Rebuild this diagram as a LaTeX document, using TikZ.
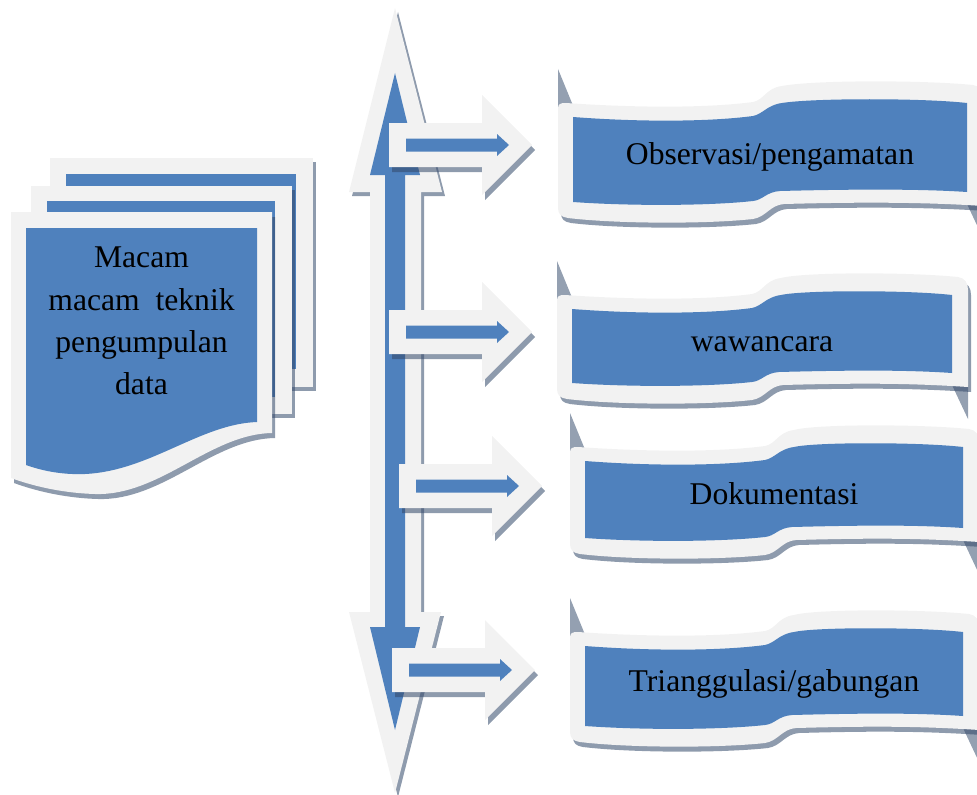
\documentclass[tikz,border=0pt]{standalone}
\usepackage{fontspec}
\setmainfont{Liberation Serif}
\definecolor{boxblue}{RGB}{79,129,189}
\definecolor{boxgray}{RGB}{242,242,242}
\definecolor{shade}{RGB}{50,72,105}
\definecolor{flapgray}{RGB}{148,160,177}
\tikzset{
  bluefill/.style={fill=boxblue},
  grayfill/.style={fill=boxgray},
  shadowfill/.style={fill=shade, fill opacity=0.55},
  flapfill/.style={fill=flapgray},
  bigtext/.style={font=\fontsize{18}{24}\selectfont, inner sep=0pt}
}
% front sheet of the pile
\newcommand{\pageout}{(11,212) -- (272,212) -- (272,433) .. controls (210,434) and (160,496) .. (95,494) .. controls (60,493) and (30,485) .. (11,478) -- cycle}
% ribbon outline: #1 width, #2 height of the blue part
\newcommand{\ribbonout}[2]{(0,6) .. controls (0,1) and (2,0) .. (8,0) .. controls (80,5) and (150,5) .. (195,-1) .. controls (206,-3) and (208,-15) .. (224,-17) .. controls ({#1*0.6},-23) and ({#1-60},-23) .. ({#1-10},-18) .. controls ({#1-3},-17) and (#1,-12) .. (#1,-5) -- (#1,{#2+18}) .. controls ({#1-60},{#2+14}) and (300,{#2+14}) .. (226,{#2+16}) .. controls (212,{#2+17}) and (208,{#2+29}) .. (195,{#2+31}) .. controls (150,{#2+36}) and (60,{#2+36}) .. (10,{#2+30}) .. controls (3,{#2+29}) and (0,{#2+26}) .. (0,{#2+20}) -- cycle}
\newcommand{\ribbonin}[2]{(15,14) .. controls (80,19) and (150,19) .. (195,13) .. controls (205,11) and (209,2) .. (224,0) .. controls ({#1*0.6},-5) and ({#1-60},-5) .. ({#1-16},0) -- ({#1-16},{#2+4}) .. controls ({#1-60},{#2+1}) and (300,{#2+1}) .. (222,{#2+3}) .. controls (208,{#2+4}) and (205,{#2+12}) .. (195,{#2+13}) .. controls (150,{#2+18}) and (70,{#2+18}) .. (15,{#2+14}) -- cycle}
% #1,#2 corner, #3 width, #4 height, #5 name, #6 text
\newcommand{\ribbon}[6]{%
  \begin{scope}[shift={(#1,#2)}]
    \fill[flapfill] (0,-34) -- (0,5) -- (16,5) -- cycle;
    \fill[flapfill] ({#3-16},{#4+16}) -- (#3,{#4+16}) -- (#3,{#4+50}) -- cycle;
    \fill[shadowfill, shift={(3,5)}] \ribbonout{#3}{#4};
    \fill[grayfill] \ribbonout{#3}{#4};
    \fill[bluefill] \ribbonin{#3}{#4};
    \node[bigtext, anchor=base] (#5) at ({(#3-1)/2},{#4/2+19}) {#6};
  \end{scope}}

\begin{document}
\begin{tikzpicture}[x=0.2mm, y=-0.2mm]
  \useasboundingbox (0,0) rectangle (977,795);
  \clip (0,0) rectangle (977,795);

  %pile of sheets
  \fill[shadowfill] (53,162) rectangle (316,391);
  \fill[grayfill] (50,158) rectangle (313,387);
  \fill[bluefill] (66,174) rectangle (296,369);
  \fill[shadowfill] (34,190) rectangle (295,418);
  \fill[grayfill] (31,186) rectangle (292,414);
  \fill[bluefill] (47,201) rectangle (275,397);
  \fill[shadowfill, shift={(3,5)}] \pageout;
  \fill[grayfill] \pageout;
  \fill[bluefill] (26,228) -- (257,228) -- (257,422) .. controls (200,424) and (150,471) .. (85,474) .. controls (60,475) and (40,470) .. (26,465) -- cycle;
  \node[bigtext, align=center] (macam) at (141.5,321) {Macam\\macam~~teknik\\pengumpulan\\data};

  %up-down arrow
  \fill[shadowfill, shift={(3,4)}] (395,8) -- (442,192) -- (421,192) -- (421,612) -- (441,612) -- (395,793) -- (349,612) -- (370,612) -- (370,192) -- (349,192) -- cycle;
  \fill[grayfill] (395,8) -- (442,192) -- (421,192) -- (421,612) -- (441,612) -- (395,793) -- (349,612) -- (370,612) -- (370,192) -- (349,192) -- cycle;
  \fill[bluefill] (395,73) -- (420,175) -- (405,175) -- (405,627) -- (420,627) -- (395,730) -- (370,627) -- (385,627) -- (385,175) -- (370,175) -- cycle;

  %arrows to the methods
  \foreach \x/\y in {389/145, 389/332, 399/486, 392/670}{
    \fill[shadowfill, shift={(\x+3,\y+5)}] (0,-22) -- (93,-22) -- (93,-50) -- (143,0) -- (93,50) -- (93,22) -- (0,22) -- cycle;
    \fill[grayfill, shift={(\x,\y)}] (0,-22) -- (93,-22) -- (93,-50) -- (143,0) -- (93,50) -- (93,22) -- (0,22) -- cycle;
    \fill[bluefill, shift={(\x,\y)}] (17,-6.5) -- (108,-6.5) -- (108,-11) -- (120,0) -- (108,11) -- (108,6.5) -- (17,6.5) -- cycle;
  }

  %ribbons
  \ribbon{558}{103}{425}{85}{obs}{Observasi/pengamatan}
  \ribbon{557}{295}{411}{74}{waw}{wawancara}
  \ribbon{570}{447}{409}{77}{dok}{Dokumentasi}
  \ribbon{570}{632}{409}{80}{tri}{Trianggulasi/gabungan}
\end{tikzpicture}
\end{document}
